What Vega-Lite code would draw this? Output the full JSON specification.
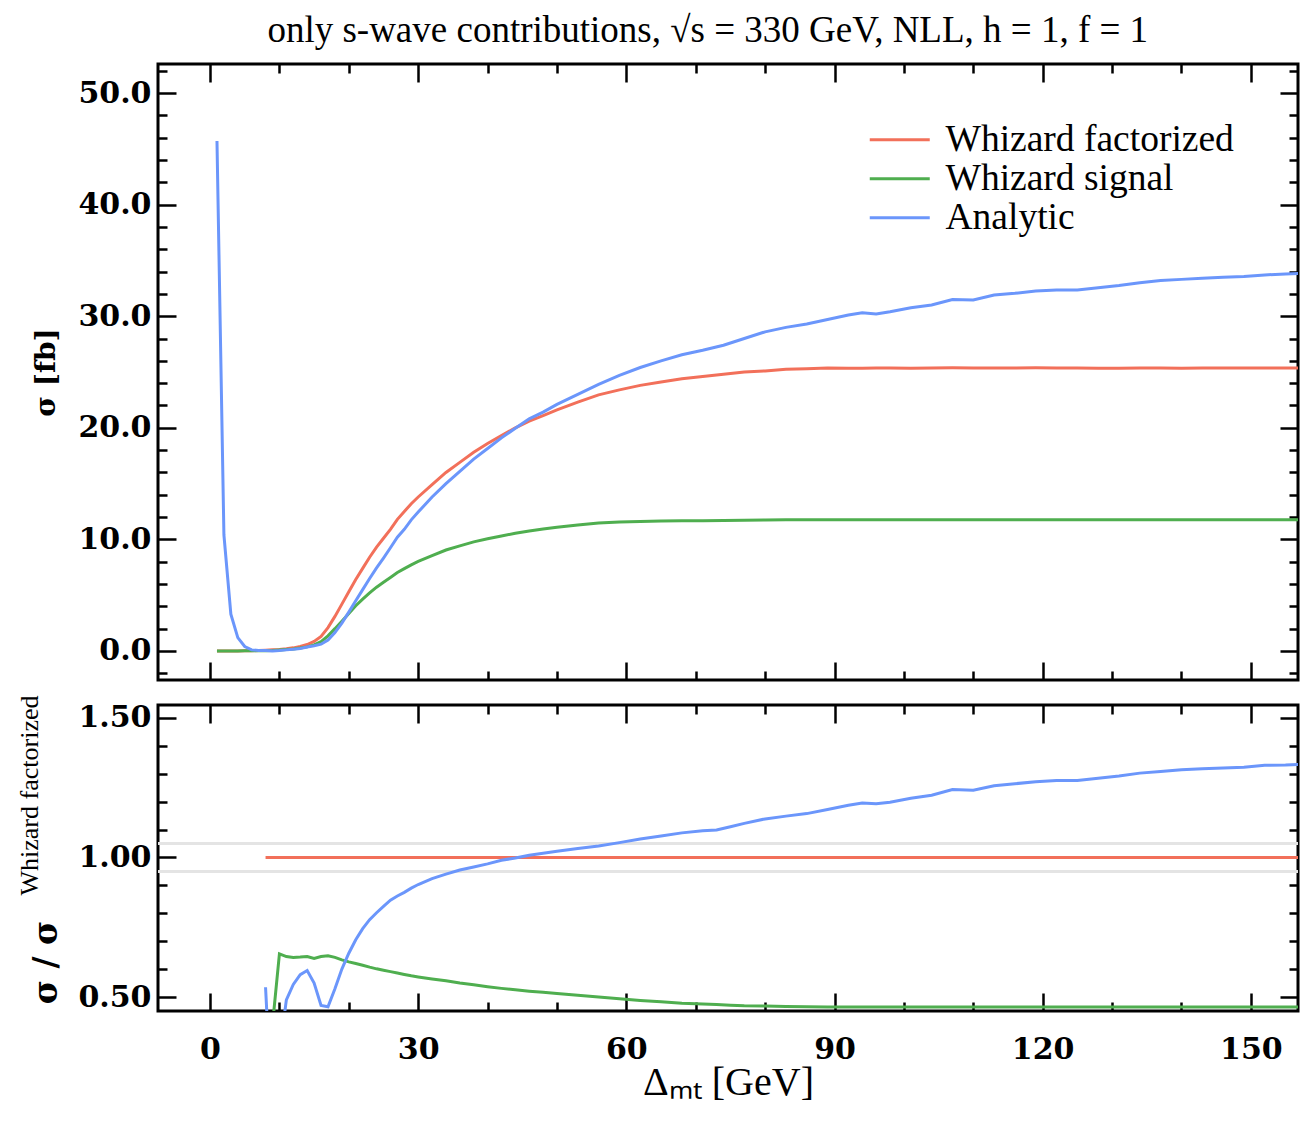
{
  "$schema": "https://vega.github.io/schema/vega-lite/v6.json",
  "background": "white",
  "padding": {"left": 14, "top": 12, "right": 12, "bottom": 10},
  "title": {
    "text": "only s-wave contributions, √s = 330 GeV, NLL, h = 1, f = 1",
    "font": "Liberation Serif",
    "fontSize": 37,
    "fontWeight": "normal",
    "color": "black",
    "anchor": "middle",
    "dx": 50,
    "offset": 4
  },
  "config": {
    "view": {"stroke": "black", "strokeWidth": 3},
    "axis": {
      "domain": false,
      "grid": false,
      "tickColor": "black",
      "tickWidth": 2.5,
      "labelFont": "DejaVu Serif",
      "labelFontWeight": "bold",
      "labelFontSize": 30,
      "labelColor": "black",
      "labelOverlap": false,
      "labelFlush": false,
      "titleColor": "black"
    }
  },
  "datasets": {
    "sigma": [
      {"dm": 1, "Whizard factorized": 0, "Whizard signal": 0, "Analytic": 45.7},
      {"dm": 2, "Whizard factorized": 0, "Whizard signal": 0, "Analytic": 10.4},
      {"dm": 3, "Whizard factorized": 0, "Whizard signal": 0, "Analytic": 3.3},
      {"dm": 4, "Whizard factorized": 0, "Whizard signal": 0, "Analytic": 1.2},
      {"dm": 5, "Whizard factorized": 0.01, "Whizard signal": 0.01, "Analytic": 0.4},
      {"dm": 6, "Whizard factorized": 0.02, "Whizard signal": 0.01, "Analytic": 0.1},
      {"dm": 7, "Whizard factorized": 0.04, "Whizard signal": 0.02, "Analytic": 0.04},
      {"dm": 8, "Whizard factorized": 0.07, "Whizard signal": 0.02, "Analytic": 0.04},
      {"dm": 9, "Whizard factorized": 0.1, "Whizard signal": 0.04, "Analytic": 0.01},
      {"dm": 10, "Whizard factorized": 0.14, "Whizard signal": 0.09, "Analytic": 0.04},
      {"dm": 11, "Whizard factorized": 0.2, "Whizard signal": 0.13, "Analytic": 0.1},
      {"dm": 12, "Whizard factorized": 0.28, "Whizard signal": 0.18, "Analytic": 0.15},
      {"dm": 13, "Whizard factorized": 0.4, "Whizard signal": 0.26, "Analytic": 0.23},
      {"dm": 14, "Whizard factorized": 0.58, "Whizard signal": 0.37, "Analytic": 0.35},
      {"dm": 15, "Whizard factorized": 0.85, "Whizard signal": 0.54, "Analytic": 0.47},
      {"dm": 16, "Whizard factorized": 1.3, "Whizard signal": 0.84, "Analytic": 0.61},
      {"dm": 17, "Whizard factorized": 2.1, "Whizard signal": 1.36, "Analytic": 0.98},
      {"dm": 18, "Whizard factorized": 3.1, "Whizard signal": 2.0, "Analytic": 1.65},
      {"dm": 19, "Whizard factorized": 4.2, "Whizard signal": 2.67, "Analytic": 2.5},
      {"dm": 20, "Whizard factorized": 5.3, "Whizard signal": 3.35, "Analytic": 3.48},
      {"dm": 21, "Whizard factorized": 6.4, "Whizard signal": 4.05, "Analytic": 4.5},
      {"dm": 22, "Whizard factorized": 7.4, "Whizard signal": 4.65, "Analytic": 5.5},
      {"dm": 23, "Whizard factorized": 8.4, "Whizard signal": 5.2, "Analytic": 6.5},
      {"dm": 24, "Whizard factorized": 9.3, "Whizard signal": 5.72, "Analytic": 7.45},
      {"dm": 25, "Whizard factorized": 10.1, "Whizard signal": 6.15, "Analytic": 8.33},
      {"dm": 26, "Whizard factorized": 10.9, "Whizard signal": 6.58, "Analytic": 9.25},
      {"dm": 27, "Whizard factorized": 11.8, "Whizard signal": 7.03, "Analytic": 10.2},
      {"dm": 28, "Whizard factorized": 12.5, "Whizard signal": 7.38, "Analytic": 10.9},
      {"dm": 29, "Whizard factorized": 13.2, "Whizard signal": 7.72, "Analytic": 11.75},
      {"dm": 30, "Whizard factorized": 13.8, "Whizard signal": 8.02, "Analytic": 12.45},
      {"dm": 32, "Whizard factorized": 14.9, "Whizard signal": 8.55, "Analytic": 13.8},
      {"dm": 34, "Whizard factorized": 16.0, "Whizard signal": 9.05, "Analytic": 15.0},
      {"dm": 36, "Whizard factorized": 16.9, "Whizard signal": 9.42, "Analytic": 16.1},
      {"dm": 38, "Whizard factorized": 17.8, "Whizard signal": 9.78, "Analytic": 17.2},
      {"dm": 40, "Whizard factorized": 18.6, "Whizard signal": 10.05, "Analytic": 18.15},
      {"dm": 42, "Whizard factorized": 19.3, "Whizard signal": 10.3, "Analytic": 19.1},
      {"dm": 44, "Whizard factorized": 20.0, "Whizard signal": 10.55, "Analytic": 19.96},
      {"dm": 46, "Whizard factorized": 20.6, "Whizard signal": 10.76, "Analytic": 20.8},
      {"dm": 48, "Whizard factorized": 21.1, "Whizard signal": 10.93, "Analytic": 21.4},
      {"dm": 50, "Whizard factorized": 21.6, "Whizard signal": 11.08, "Analytic": 22.1},
      {"dm": 53, "Whizard factorized": 22.3, "Whizard signal": 11.28, "Analytic": 23.0},
      {"dm": 56, "Whizard factorized": 22.95, "Whizard signal": 11.47, "Analytic": 23.9},
      {"dm": 59, "Whizard factorized": 23.4, "Whizard signal": 11.56, "Analytic": 24.7},
      {"dm": 62, "Whizard factorized": 23.8, "Whizard signal": 11.61, "Analytic": 25.4},
      {"dm": 65, "Whizard factorized": 24.1, "Whizard signal": 11.64, "Analytic": 26.0},
      {"dm": 68, "Whizard factorized": 24.4, "Whizard signal": 11.66, "Analytic": 26.55},
      {"dm": 71, "Whizard factorized": 24.6, "Whizard signal": 11.68, "Analytic": 26.95},
      {"dm": 74, "Whizard factorized": 24.8, "Whizard signal": 11.7, "Analytic": 27.4},
      {"dm": 77, "Whizard factorized": 25.0, "Whizard signal": 11.72, "Analytic": 28.0},
      {"dm": 80, "Whizard factorized": 25.1, "Whizard signal": 11.74, "Analytic": 28.6},
      {"dm": 83, "Whizard factorized": 25.25, "Whizard signal": 11.75, "Analytic": 29.0},
      {"dm": 86, "Whizard factorized": 25.3, "Whizard signal": 11.76, "Analytic": 29.3},
      {"dm": 89, "Whizard factorized": 25.35, "Whizard signal": 11.76, "Analytic": 29.7},
      {"dm": 92, "Whizard factorized": 25.33, "Whizard signal": 11.75, "Analytic": 30.1},
      {"dm": 94, "Whizard factorized": 25.34, "Whizard signal": 11.76, "Analytic": 30.3},
      {"dm": 96, "Whizard factorized": 25.36, "Whizard signal": 11.77, "Analytic": 30.2},
      {"dm": 98, "Whizard factorized": 25.35, "Whizard signal": 11.76, "Analytic": 30.4},
      {"dm": 101, "Whizard factorized": 25.34, "Whizard signal": 11.75, "Analytic": 30.75},
      {"dm": 104, "Whizard factorized": 25.35, "Whizard signal": 11.76, "Analytic": 31.0},
      {"dm": 107, "Whizard factorized": 25.37, "Whizard signal": 11.76, "Analytic": 31.5},
      {"dm": 110, "Whizard factorized": 25.36, "Whizard signal": 11.77, "Analytic": 31.45},
      {"dm": 113, "Whizard factorized": 25.35, "Whizard signal": 11.76, "Analytic": 31.9},
      {"dm": 116, "Whizard factorized": 25.36, "Whizard signal": 11.76, "Analytic": 32.05},
      {"dm": 119, "Whizard factorized": 25.37, "Whizard signal": 11.77, "Analytic": 32.25},
      {"dm": 122, "Whizard factorized": 25.36, "Whizard signal": 11.76, "Analytic": 32.35},
      {"dm": 125, "Whizard factorized": 25.35, "Whizard signal": 11.76, "Analytic": 32.35},
      {"dm": 128, "Whizard factorized": 25.34, "Whizard signal": 11.75, "Analytic": 32.55},
      {"dm": 131, "Whizard factorized": 25.33, "Whizard signal": 11.76, "Analytic": 32.75},
      {"dm": 134, "Whizard factorized": 25.35, "Whizard signal": 11.77, "Analytic": 33.0},
      {"dm": 137, "Whizard factorized": 25.36, "Whizard signal": 11.76, "Analytic": 33.2},
      {"dm": 140, "Whizard factorized": 25.34, "Whizard signal": 11.76, "Analytic": 33.3},
      {"dm": 143, "Whizard factorized": 25.35, "Whizard signal": 11.76, "Analytic": 33.4},
      {"dm": 146, "Whizard factorized": 25.36, "Whizard signal": 11.77, "Analytic": 33.5},
      {"dm": 149, "Whizard factorized": 25.35, "Whizard signal": 11.76, "Analytic": 33.55},
      {"dm": 152, "Whizard factorized": 25.36, "Whizard signal": 11.76, "Analytic": 33.7},
      {"dm": 155, "Whizard factorized": 25.35, "Whizard signal": 11.77, "Analytic": 33.78},
      {"dm": 157, "Whizard factorized": 25.36, "Whizard signal": 11.77, "Analytic": 33.82}
    ],
    "ratio": [
      {"dm": 8, "Whizard factorized": 1, "Whizard signal": 0.2, "Analytic": 0.535},
      {"dm": 9, "Whizard factorized": 1, "Whizard signal": 0.4, "Analytic": 0.05},
      {"dm": 10, "Whizard factorized": 1, "Whizard signal": 0.655, "Analytic": 0.3},
      {"dm": 11, "Whizard factorized": 1, "Whizard signal": 0.645, "Analytic": 0.49},
      {"dm": 12, "Whizard factorized": 1, "Whizard signal": 0.642, "Analytic": 0.545},
      {"dm": 13, "Whizard factorized": 1, "Whizard signal": 0.643, "Analytic": 0.58},
      {"dm": 14, "Whizard factorized": 1, "Whizard signal": 0.645, "Analytic": 0.595},
      {"dm": 15, "Whizard factorized": 1, "Whizard signal": 0.638, "Analytic": 0.55},
      {"dm": 16, "Whizard factorized": 1, "Whizard signal": 0.645, "Analytic": 0.47},
      {"dm": 17, "Whizard factorized": 1, "Whizard signal": 0.648, "Analytic": 0.465},
      {"dm": 18, "Whizard factorized": 1, "Whizard signal": 0.642, "Analytic": 0.53},
      {"dm": 19, "Whizard factorized": 1, "Whizard signal": 0.633, "Analytic": 0.6},
      {"dm": 20, "Whizard factorized": 1, "Whizard signal": 0.626, "Analytic": 0.657},
      {"dm": 21, "Whizard factorized": 1, "Whizard signal": 0.62, "Analytic": 0.705},
      {"dm": 22, "Whizard factorized": 1, "Whizard signal": 0.614, "Analytic": 0.745},
      {"dm": 23, "Whizard factorized": 1, "Whizard signal": 0.607, "Analytic": 0.777},
      {"dm": 24, "Whizard factorized": 1, "Whizard signal": 0.601, "Analytic": 0.802},
      {"dm": 25, "Whizard factorized": 1, "Whizard signal": 0.596, "Analytic": 0.825},
      {"dm": 26, "Whizard factorized": 1, "Whizard signal": 0.591, "Analytic": 0.847},
      {"dm": 27, "Whizard factorized": 1, "Whizard signal": 0.586, "Analytic": 0.862},
      {"dm": 28, "Whizard factorized": 1, "Whizard signal": 0.581, "Analytic": 0.875},
      {"dm": 29, "Whizard factorized": 1, "Whizard signal": 0.576, "Analytic": 0.89},
      {"dm": 30, "Whizard factorized": 1, "Whizard signal": 0.572, "Analytic": 0.903},
      {"dm": 32, "Whizard factorized": 1, "Whizard signal": 0.565, "Analytic": 0.924},
      {"dm": 34, "Whizard factorized": 1, "Whizard signal": 0.558, "Analytic": 0.94},
      {"dm": 36, "Whizard factorized": 1, "Whizard signal": 0.55, "Analytic": 0.955},
      {"dm": 38, "Whizard factorized": 1, "Whizard signal": 0.544, "Analytic": 0.966},
      {"dm": 40, "Whizard factorized": 1, "Whizard signal": 0.537, "Analytic": 0.977},
      {"dm": 42, "Whizard factorized": 1, "Whizard signal": 0.531, "Analytic": 0.99},
      {"dm": 44, "Whizard factorized": 1, "Whizard signal": 0.526, "Analytic": 0.998},
      {"dm": 46, "Whizard factorized": 1, "Whizard signal": 0.521, "Analytic": 1.008},
      {"dm": 48, "Whizard factorized": 1, "Whizard signal": 0.517, "Analytic": 1.015},
      {"dm": 50, "Whizard factorized": 1, "Whizard signal": 0.513, "Analytic": 1.022},
      {"dm": 53, "Whizard factorized": 1, "Whizard signal": 0.506, "Analytic": 1.032},
      {"dm": 56, "Whizard factorized": 1, "Whizard signal": 0.5, "Analytic": 1.041},
      {"dm": 59, "Whizard factorized": 1, "Whizard signal": 0.494, "Analytic": 1.053},
      {"dm": 62, "Whizard factorized": 1, "Whizard signal": 0.488, "Analytic": 1.066},
      {"dm": 65, "Whizard factorized": 1, "Whizard signal": 0.483, "Analytic": 1.077},
      {"dm": 68, "Whizard factorized": 1, "Whizard signal": 0.478, "Analytic": 1.088},
      {"dm": 71, "Whizard factorized": 1, "Whizard signal": 0.475, "Analytic": 1.096},
      {"dm": 73, "Whizard factorized": 1, "Whizard signal": 0.473, "Analytic": 1.098},
      {"dm": 75, "Whizard factorized": 1, "Whizard signal": 0.471, "Analytic": 1.11},
      {"dm": 77, "Whizard factorized": 1, "Whizard signal": 0.469, "Analytic": 1.122},
      {"dm": 80, "Whizard factorized": 1, "Whizard signal": 0.468, "Analytic": 1.138},
      {"dm": 83, "Whizard factorized": 1, "Whizard signal": 0.466, "Analytic": 1.148},
      {"dm": 86, "Whizard factorized": 1, "Whizard signal": 0.465, "Analytic": 1.157},
      {"dm": 89, "Whizard factorized": 1, "Whizard signal": 0.464, "Analytic": 1.172},
      {"dm": 92, "Whizard factorized": 1, "Whizard signal": 0.464, "Analytic": 1.187},
      {"dm": 94, "Whizard factorized": 1, "Whizard signal": 0.464, "Analytic": 1.195},
      {"dm": 96, "Whizard factorized": 1, "Whizard signal": 0.464, "Analytic": 1.192},
      {"dm": 98, "Whizard factorized": 1, "Whizard signal": 0.464, "Analytic": 1.198},
      {"dm": 101, "Whizard factorized": 1, "Whizard signal": 0.464, "Analytic": 1.212},
      {"dm": 104, "Whizard factorized": 1, "Whizard signal": 0.464, "Analytic": 1.223},
      {"dm": 107, "Whizard factorized": 1, "Whizard signal": 0.464, "Analytic": 1.243},
      {"dm": 110, "Whizard factorized": 1, "Whizard signal": 0.464, "Analytic": 1.241},
      {"dm": 113, "Whizard factorized": 1, "Whizard signal": 0.464, "Analytic": 1.257},
      {"dm": 116, "Whizard factorized": 1, "Whizard signal": 0.464, "Analytic": 1.264},
      {"dm": 119, "Whizard factorized": 1, "Whizard signal": 0.464, "Analytic": 1.271},
      {"dm": 122, "Whizard factorized": 1, "Whizard signal": 0.464, "Analytic": 1.276},
      {"dm": 125, "Whizard factorized": 1, "Whizard signal": 0.464, "Analytic": 1.276},
      {"dm": 128, "Whizard factorized": 1, "Whizard signal": 0.464, "Analytic": 1.284},
      {"dm": 131, "Whizard factorized": 1, "Whizard signal": 0.464, "Analytic": 1.292},
      {"dm": 134, "Whizard factorized": 1, "Whizard signal": 0.464, "Analytic": 1.302},
      {"dm": 137, "Whizard factorized": 1, "Whizard signal": 0.464, "Analytic": 1.308},
      {"dm": 140, "Whizard factorized": 1, "Whizard signal": 0.464, "Analytic": 1.314},
      {"dm": 143, "Whizard factorized": 1, "Whizard signal": 0.464, "Analytic": 1.318},
      {"dm": 146, "Whizard factorized": 1, "Whizard signal": 0.464, "Analytic": 1.32},
      {"dm": 149, "Whizard factorized": 1, "Whizard signal": 0.464, "Analytic": 1.323},
      {"dm": 152, "Whizard factorized": 1, "Whizard signal": 0.464, "Analytic": 1.33},
      {"dm": 155, "Whizard factorized": 1, "Whizard signal": 0.464, "Analytic": 1.331},
      {"dm": 157, "Whizard factorized": 1, "Whizard signal": 0.464, "Analytic": 1.333}
    ]
  },
  "spacing": 3,
  "vconcat": [
    {
      "width": 1140,
      "height": 616,
      "data": {"name": "sigma"},
      "transform": [{"fold": ["Whizard factorized", "Whizard signal", "Analytic"], "as": ["series", "value"]}],
      "layer": [
        {
          "mark": {"type": "line", "strokeWidth": 3, "clip": true},
          "encoding": {
            "x": {
              "field": "dm", "type": "quantitative",
              "scale": {"domain": [-7.5, 156.8], "nice": false, "zero": false},
              "axis": {
                "orient": "bottom", "labels": false, "title": null,
                "values": [0, 10, 20, 30, 40, 50, 60, 70, 80, 90, 100, 110, 120, 130, 140, 150],
                "tickSize": {"condition": {"test": "datum.value % 30 === 0", "value": -18}, "value": -9}
              }
            },
            "y": {
              "field": "value", "type": "quantitative",
              "scale": {"domain": [-2.6, 52.6], "nice": false, "zero": false},
              "axis": {
                "orient": "left",
                "values": [-2, 0, 2, 4, 6, 8, 10, 12, 14, 16, 18, 20, 22, 24, 26, 28, 30, 32, 34, 36, 38, 40, 42, 44, 46, 48, 50, 52],
                "format": ".1f",
                "labelExpr": "datum.value % 10 === 0 ? datum.label : ''",
                "labelPadding": 25,
                "tickSize": {"condition": {"test": "datum.value % 10 === 0", "value": -18}, "value": -9},
                "title": "σ [fb]",
                "titleFont": "DejaVu Serif", "titleFontSize": 28, "titleFontWeight": "bold",
                "titleAngle": -90, "titleAlign": "center", "titleBaseline": "middle",
                "titleX": -112
              }
            },
            "color": {
              "field": "series", "type": "nominal",
              "scale": {"domain": ["Whizard factorized", "Whizard signal", "Analytic"], "range": ["#f2705a", "#4fae4f", "#6b96fb"]},
              "legend": {
                "orient": "none", "legendX": 723, "legendY": 57,
                "title": null, "padding": 0,
                "symbolType": "M-3,0H3", "symbolSize": 400, "symbolStrokeWidth": 3,
                "labelFont": "Liberation Serif", "labelFontSize": 37.5, "labelColor": "black",
                "labelOffset": 27, "labelLimit": 0, "rowPadding": 0
              }
            }
          }
        },
        {
          "mark": {"type": "line", "opacity": 0},
          "encoding": {
            "detail": {"field": "series"},
            "x": {
              "field": "dm", "type": "quantitative",
              "axis": {
                "orient": "top", "labels": false, "title": null,
                "values": [0, 10, 20, 30, 40, 50, 60, 70, 80, 90, 100, 110, 120, 130, 140, 150],
                "tickSize": {"condition": {"test": "datum.value % 30 === 0", "value": -18}, "value": -9}
              }
            },
            "y": {
              "field": "value", "type": "quantitative",
              "axis": {
                "orient": "right", "labels": false, "title": null,
                "values": [-2, 0, 2, 4, 6, 8, 10, 12, 14, 16, 18, 20, 22, 24, 26, 28, 30, 32, 34, 36, 38, 40, 42, 44, 46, 48, 50, 52],
                "tickSize": {"condition": {"test": "datum.value % 10 === 0", "value": -18}, "value": -9}
              }
            }
          }
        }
      ],
      "resolve": {"axis": {"x": "independent", "y": "independent"}}
    },
    {
      "width": 1140,
      "height": 306,
      "data": {"name": "ratio"},
      "transform": [{"fold": ["Whizard factorized", "Whizard signal", "Analytic"], "as": ["series", "value"]}],
      "layer": [
        {
          "data": {"values": [{"band": 0.95}, {"band": 1.05}]},
          "transform": [],
          "mark": {"type": "rule", "color": "#e4e4e4", "strokeWidth": 3},
          "encoding": {"y": {"field": "band", "type": "quantitative", "axis": null}}
        },
        {
          "mark": {"type": "line", "strokeWidth": 3, "clip": true},
          "encoding": {
            "x": {
              "field": "dm", "type": "quantitative",
              "scale": {"domain": [-7.5, 156.8], "nice": false, "zero": false},
              "axis": {
                "orient": "bottom",
                "values": [0, 10, 20, 30, 40, 50, 60, 70, 80, 90, 100, 110, 120, 130, 140, 150],
                "format": "d",
                "labelExpr": "datum.value % 30 === 0 ? datum.label : ''",
                "labelPadding": 41,
                "tickSize": {"condition": {"test": "datum.value % 30 === 0", "value": -18}, "value": -9},
                "title": "Δₘₜ [GeV]",
                "titleFont": "Liberation Serif", "titleFontSize": 40, "titleFontWeight": "normal",
                "titleBaseline": "middle", "titleY": 71
              }
            },
            "y": {
              "field": "value", "type": "quantitative",
              "scale": {"domain": [0.45, 1.546], "nice": false, "zero": false},
              "axis": {
                "orient": "left",
                "values": [0.5, 0.6, 0.7, 0.8, 0.9, 1.0, 1.1, 1.2, 1.3, 1.4, 1.5],
                "format": ".2f",
                "labelExpr": "abs(datum.value * 2 - round(datum.value * 2)) < 1e-6 ? datum.label : ''",
                "labelPadding": 25,
                "tickSize": {"condition": {"test": "abs(datum.value * 2 - round(datum.value * 2)) < 1e-6", "value": -18}, "value": -9},
                "title": "σ / σ",
                "titleFont": "DejaVu Serif", "titleFontSize": 33, "titleFontWeight": "bold",
                "titleAngle": -90, "titleAlign": "center", "titleBaseline": "middle",
                "titleX": -112, "titleY": 257
              }
            },
            "color": {
              "field": "series", "type": "nominal",
              "scale": {"domain": ["Whizard factorized", "Whizard signal", "Analytic"], "range": ["#f2705a", "#4fae4f", "#6b96fb"]},
              "legend": null
            }
          }
        },
        {
          "mark": {"type": "line", "opacity": 0},
          "encoding": {
            "detail": {"field": "series"},
            "x": {
              "field": "dm", "type": "quantitative",
              "axis": {
                "orient": "top", "labels": false, "title": null,
                "values": [0, 10, 20, 30, 40, 50, 60, 70, 80, 90, 100, 110, 120, 130, 140, 150],
                "tickSize": {"condition": {"test": "datum.value % 30 === 0", "value": -18}, "value": -9}
              }
            },
            "y": {
              "field": "value", "type": "quantitative",
              "axis": {
                "orient": "right", "labels": false, "title": null,
                "values": [0.5, 0.6, 0.7, 0.8, 0.9, 1.0, 1.1, 1.2, 1.3, 1.4, 1.5],
                "tickSize": {"condition": {"test": "abs(datum.value * 2 - round(datum.value * 2)) < 1e-6", "value": -18}, "value": -9}
              }
            }
          }
        },
        {
          "mark": {"type": "line", "opacity": 0},
          "encoding": {
            "detail": {"field": "series"},
            "x": {"field": "dm", "type": "quantitative", "axis": null},
            "y": {
              "field": "value", "type": "quantitative",
              "axis": {
                "orient": "left", "ticks": false, "labels": false,
                "title": "Whizard factorized",
                "titleFont": "Liberation Serif", "titleFontSize": 26, "titleFontWeight": "normal",
                "titleAngle": -90, "titleAlign": "center", "titleBaseline": "middle",
                "titleX": -129, "titleY": 90
              }
            }
          }
        }
      ],
      "resolve": {"axis": {"x": "independent", "y": "independent"}}
    }
  ]
}
